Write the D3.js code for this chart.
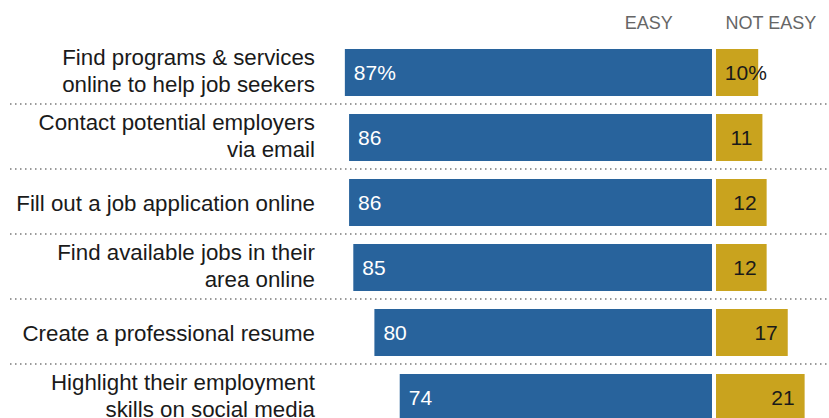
<!DOCTYPE html>
<html>
<head>
<meta charset="utf-8">
<script src="https://cdn.jsdelivr.net/npm/d3@7"></script>
<style>
  html, body { margin: 0; padding: 0; background: #fff; }
  svg { display: block; font-family: "Liberation Sans", Arial, sans-serif; }
</style>
</head>
<body>
<svg id="chart" width="829" height="418"></svg>
<script>
// Tasks, with line breaks where the label wraps
const categories = [
  "Find programs & services\nonline to help job seekers",
  "Contact potential employers\nvia email",
  "Fill out a job application online",
  "Find available jobs in their\narea online",
  "Create a professional resume",
  "Highlight their employment\nskills on social media"
];
const easyValues = [87, 86, 86, 85, 80, 74];
const notEasyValues = [10, 11, 12, 12, 17, 21];
const seriesLabels = ["EASY", "NOT EASY"];

const W = 829, H = 418;
const svg = d3.select("#chart");

const blue = "#28639c";
const gold = "#c9a31e";

// Rows
const y = d3.scaleBand()
  .domain(categories)
  .range([40, 40 + 65 * categories.length])
  .paddingInner(18 / 65)
  .paddingOuter(9 / 65);

// Easy grows left from the centre, not easy grows right
const xEasy = d3.scaleLinear().domain([0, 100]).range([712, 712 - 422]);
const xNot = d3.scaleLinear().domain([0, 100]).range([716, 716 + 422]);

// Column headers
svg.append("text")
  .attr("x", xEasy(15)).attr("y", 29)
  .attr("text-anchor", "middle")
  .attr("font-size", 18).attr("fill", "#666")
  .text(seriesLabels[0]);
svg.append("text")
  .attr("x", xNot(13)).attr("y", 29)
  .attr("text-anchor", "middle")
  .attr("font-size", 18).attr("fill", "#666")
  .text(seriesLabels[1]);

// Dotted separators between rows
const seps = categories.slice(0, -1);
svg.selectAll("line.sep")
  .data(seps)
  .join("line")
  .attr("class", "sep")
  .attr("x1", 10).attr("x2", W)
  .attr("y1", d => y(d) + y.bandwidth() + 8)
  .attr("y2", d => y(d) + y.bandwidth() + 8)
  .attr("stroke", "#9a9a9a")
  .attr("stroke-width", 2)
  .attr("stroke-dasharray", "1.5,3.5");

const rows = svg.selectAll("g.row")
  .data(categories.map((c, i) => ({ c, i, easy: easyValues[i], not: notEasyValues[i] })))
  .join("g")
  .attr("class", "row");

// Easy bars
rows.append("rect")
  .attr("x", d => xEasy(d.easy))
  .attr("y", d => y(d.c))
  .attr("width", d => xEasy(0) - xEasy(d.easy))
  .attr("height", y.bandwidth())
  .attr("fill", blue);

// Not easy bars
rows.append("rect")
  .attr("x", xNot(0))
  .attr("y", d => y(d.c))
  .attr("width", d => xNot(d.not) - xNot(0))
  .attr("height", y.bandwidth())
  .attr("fill", gold);

const valueY = d => y(d.c) + y.bandwidth() / 2 + 7.5;

// Easy values, inside the left end
rows.append("text")
  .attr("x", d => xEasy(d.easy) + 9)
  .attr("y", valueY)
  .attr("font-size", 21)
  .attr("fill", "#fff")
  .text(d => d.i === 0 ? d.easy + "%" : d.easy);

// Not easy values, right-aligned inside the bar; the % sign hangs past the number
rows.append("text")
  .attr("x", d => xNot(d.not) - 10)
  .attr("y", valueY)
  .attr("text-anchor", "end")
  .attr("font-size", 21)
  .attr("fill", "#1a1a1a")
  .text(d => d.not);
rows.filter(d => d.i === 0).append("text")
  .attr("x", d => xNot(d.not) - 10)
  .attr("y", valueY)
  .attr("font-size", 21)
  .attr("fill", "#1a1a1a")
  .text("%");

// Category labels, right-aligned
rows.append("text")
  .attr("text-anchor", "end")
  .attr("font-size", 22.3)
  .attr("fill", "#1a1a1a")
  .each(function(d) {
    const lines = d.c.split("\n");
    const mid = y(d.c) + y.bandwidth() / 2;
    const first = lines.length === 1 ? mid + 8 : mid - 7.5;
    d3.select(this).selectAll("tspan")
      .data(lines)
      .join("tspan")
      .attr("x", 315)
      .attr("y", (l, k) => first + k * 27)
      .text(l => l);
  });
</script>
</body>
</html>
